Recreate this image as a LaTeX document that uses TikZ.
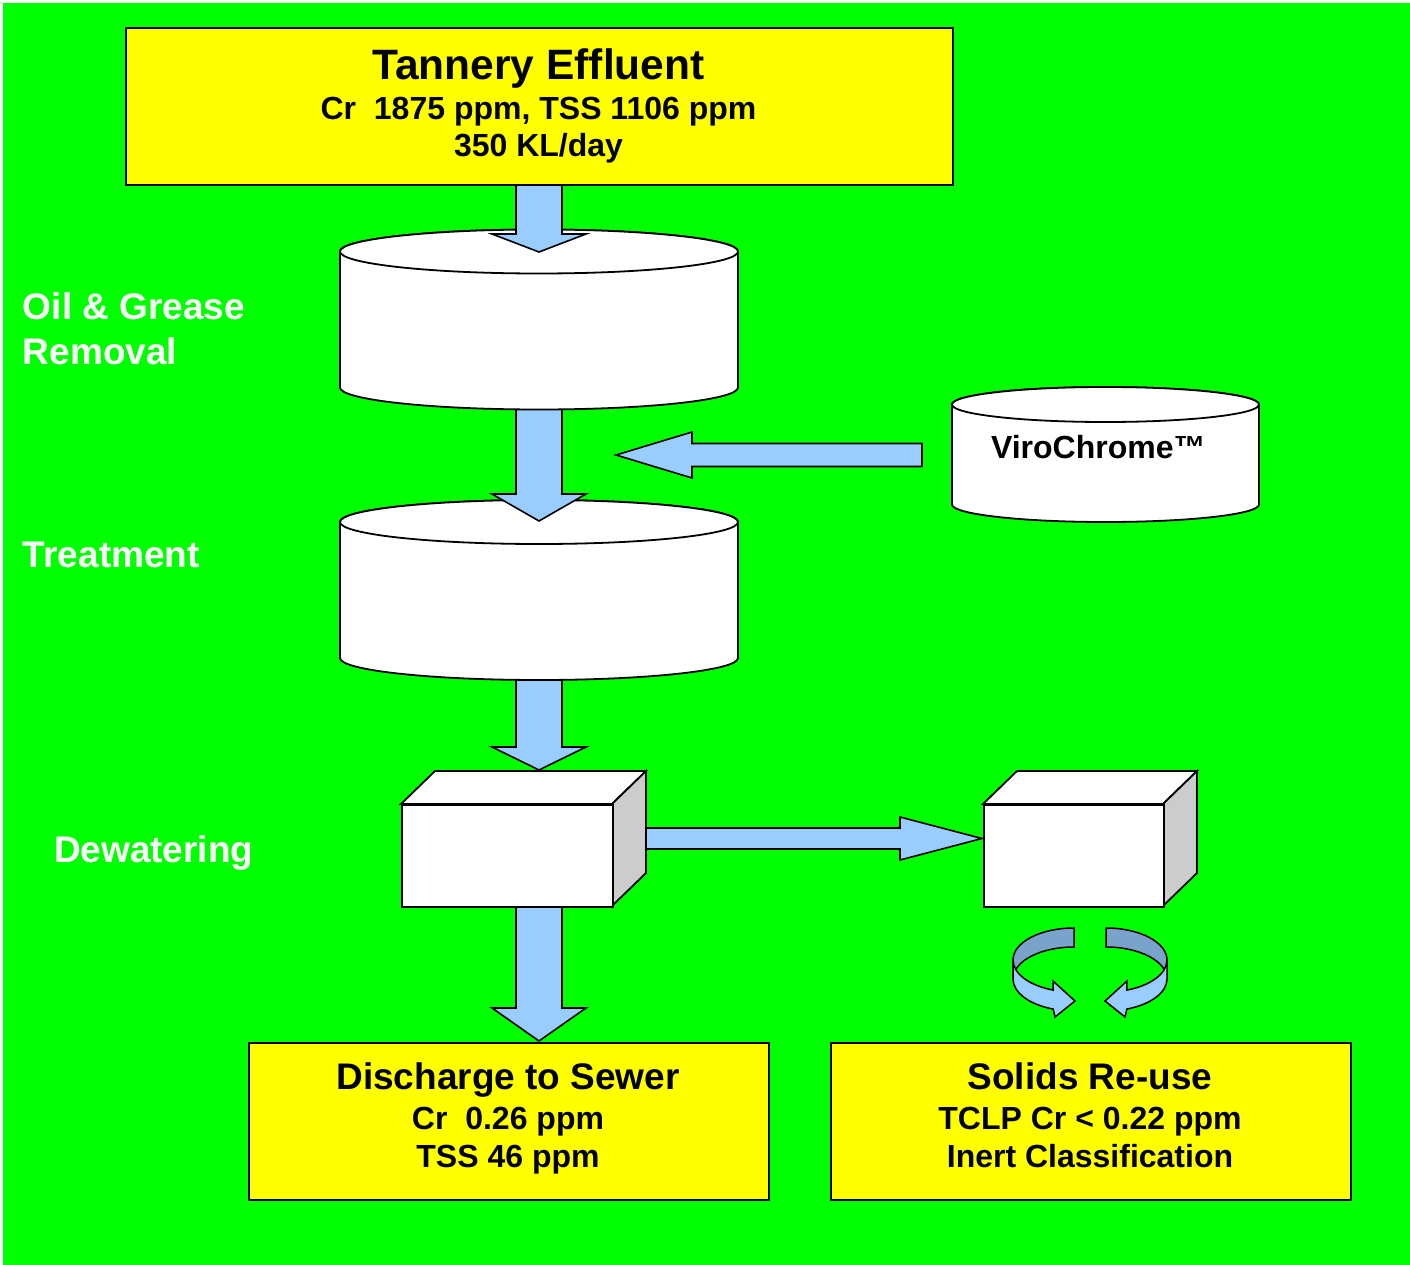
\documentclass[tikz,border=0pt]{standalone}
\usepackage{fontspec}
\setmainfont{Liberation Sans}
\definecolor{bggreen}{HTML}{00FF00}
\definecolor{boxyellow}{HTML}{FFFF00}
\definecolor{lblue}{HTML}{99CCFF}
\definecolor{dblue}{HTML}{7AA3CC}
\definecolor{sidegray}{HTML}{CCCCCC}
\newcommand\fsz[1]{\fontsize{#1}{#1}\selectfont}
\newcommand\blkdown[4]{\draw[barrow] (#1-23,#2) -- (#1+23,#2) -- (#1+23,#3) -- (#1+47,#3) -- (#1,#4) -- (#1-47,#3) -- (#1-23,#3) -- cycle;}
\newcommand\drawcyl[5]{%
  \filldraw[cylst] (#1-#2,#3) -- (#1-#2,#4) arc[start angle=180,end angle=0,x radius=#2,y radius=#5] -- (#1+#2,#3) arc[start angle=0,end angle=-180,x radius=#2,y radius=#5] -- cycle;
  \filldraw[cylst] (#1,#3) ellipse[x radius=#2,y radius=#5];}
\newcommand\drawcube[6]{%
  \filldraw[cubest] (#2,#3) -- (#2+#6,#3-#6+1) -- (#4+#6,#3-#6+1) -- (#4,#3) -- cycle;
  \filldraw[cubest, fill=sidegray] (#4,#3) -- (#4+#6,#3-#6+1) -- (#4+#6,#5-#6+1) -- (#4,#5) -- cycle;
  \node[cubest, anchor=north west, minimum width=#4-#2, minimum height=#5-#3] (#1) at (#2,#3) {};}
\begin{document}
\begin{tikzpicture}[x=1pt,y=-1pt,line join=miter]
\tikzset{
  ybox/.style={draw=black, line width=2pt, fill=boxyellow, inner sep=0pt},
  barrow/.style={draw=black, line width=1.6pt, fill=lblue},
  cylst/.style={draw=black, line width=1.8pt, fill=white},
  cubest/.style={draw=black, line width=1.8pt, fill=white, inner sep=0pt},
  txt/.style={inner sep=0pt, outer sep=0pt, font=\bfseries},
  wtxt/.style={txt, text=white},
  rib/.style={draw=black, line width=1.5pt}
}
\useasboundingbox (0,0) rectangle (1410,1265);
\fill[white] (0,0) rectangle (1410,1265);
\fill[bggreen] (3,3) rectangle (1410,1265);

% ViroChrome tank and feed arrow
\drawcyl{1105.5}{153.5}{404.5}{504.5}{17.5}
\coordinate (viro) at (1105.5,455);
\draw[barrow] (922,443.5) -- (692,443.5) -- (692,432) -- (616,455) -- (692,478) -- (692,466.5) -- (922,466.5) -- cycle;

% bottom boxes
\node[ybox, anchor=north west, minimum width=520pt, minimum height=157pt] (sewer) at (248,1042) {};
\node[ybox, anchor=north west, minimum width=520pt, minimum height=157pt] (solids) at (830,1042) {};

% dewatering -> sewer
\blkdown{539}{895}{1008}{1041}

% second cube
\drawcube{cubeB}{983}{804}{1163}{906}{34}
% dewatering -> solids
\draw[barrow] (630,828) -- (900,828) -- (900,817) -- (982,838.5) -- (900,860) -- (900,849) -- (630,849) -- cycle;
% dewatering cube
\drawcube{cubeA}{401}{804}{612}{906}{34}

% treatment -> dewatering
\blkdown{539}{660}{747}{770}
% treatment tank
\drawcyl{539}{199}{522}{658}{22}
% oil&grease -> treatment
\blkdown{539}{395}{494}{521}
% oil & grease tank
\drawcyl{539}{199}{251.5}{387.5}{22}
% effluent -> oil & grease
\blkdown{539}{180}{234}{252}
% top box
\node[ybox, anchor=north west, minimum width=827pt, minimum height=157pt] (effluent) at (125,27) {};

% circular arrows (left)
\filldraw[rib, fill=dblue] (1074,928) arc[start angle=-90,end angle=-180,x radius=61,y radius=32]
  -- (1013,979) arc[start angle=180,end angle=270,x radius=61,y radius=32] -- cycle;
\filldraw[rib, fill=lblue] (1013,960) arc[start angle=-180,end angle=-250,x radius=61,y radius=32]
  -- (1053,981) -- (1075,1001) -- (1055,1017) -- ([shift={(1074,979)}]-250:61 and 32)
  arc[start angle=-250,end angle=-180,x radius=61,y radius=32] -- cycle;
% circular arrows (right)
\filldraw[rib, fill=dblue] (1106,928) arc[start angle=-90,end angle=0,x radius=61,y radius=32]
  -- (1167,979) arc[start angle=0,end angle=-90,x radius=61,y radius=32] -- cycle;
\filldraw[rib, fill=lblue] (1167,960) arc[start angle=0,end angle=70,x radius=61,y radius=32]
  -- (1127,981) -- (1105,1001) -- (1125,1017) -- ([shift={(1106,979)}]70:61 and 32)
  arc[start angle=70,end angle=0,x radius=61,y radius=32] -- cycle;

% texts
\node[txt, anchor=base, font=\bfseries\fsz{42.5}] (tA) at (538.5,80) {Tannery Effluent};
\node[txt, anchor=base, font=\bfseries\fsz{32}] (tB) at (538.5,120) {Cr\ \ 1875 ppm, TSS 1106 ppm};
\node[txt, anchor=base, font=\bfseries\fsz{32}] (tC) at (538.5,157) {350 KL/day};

\node[txt, anchor=base west, font=\bfseries\fsz{32}] (tViro) at (991,458) {ViroChrome™};

\node[wtxt, anchor=base west, font=\bfseries\fsz{37}] (lOil) at (23,319) {Oil \& Grease};
\node[wtxt, anchor=base west, font=\bfseries\fsz{37}] (lRem) at (23,364) {Removal};
\node[wtxt, anchor=base west, font=\bfseries\fsz{37}] (lTreat) at (23,567) {Treatment};
\node[wtxt, anchor=base west, font=\bfseries\fsz{37}] (lDew) at (54,862) {Dewatering};

\node[txt, anchor=base, font=\bfseries\fsz{37}] (sA) at (508,1089) {Discharge to Sewer};
\node[txt, anchor=base, font=\bfseries\fsz{32}] (sB) at (508,1129) {Cr\ \ 0.26 ppm};
\node[txt, anchor=base, font=\bfseries\fsz{32}] (sC) at (508,1167) {TSS 46 ppm};

\node[txt, anchor=base, font=\bfseries\fsz{37}] (rA) at (1090,1089) {Solids Re-use};
\node[txt, anchor=base, font=\bfseries\fsz{32}] (rB) at (1090,1129) {TCLP Cr < 0.22 ppm};
\node[txt, anchor=base, font=\bfseries\fsz{32}] (rC) at (1090,1167) {Inert Classification};
\end{tikzpicture}
\end{document}
